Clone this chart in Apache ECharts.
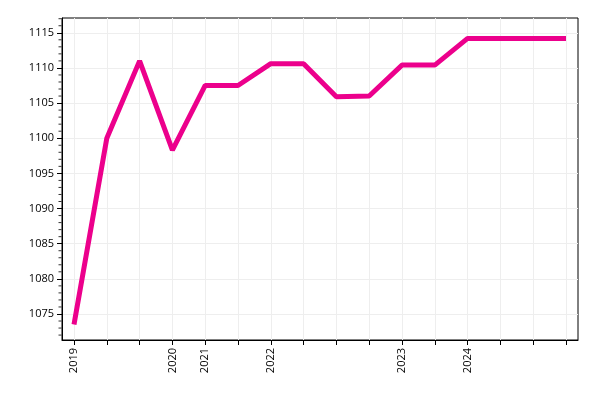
<!DOCTYPE html>
<html><head><meta charset="utf-8">
<script src="https://cdn.jsdelivr.net/npm/echarts@6/dist/echarts.min.js"></script>
<style>html,body{margin:0;padding:0;background:#fff}#c{width:600px;height:400px}</style>
</head><body><div id="c"></div>
<script>
const xLabels = ['2019','','','2020','2021','','2022','','','','2023','','2024','','',''];
const values = [1073.5,1100,1111,1098.3,1107.5,1107.5,1110.6,1110.6,1105.9,1106,1110.4,1110.4,1114.2,1114.2,1114.2,1114.2];
const yTicks = [1075,1080,1085,1090,1095,1100,1105,1110,1115];
const yMinor = [];
for (let v = 1072; v <= 1117; v++) if (v % 5) yMinor.push(v);
const xIdx = values.map((_, i) => i);
const chart = echarts.init(document.getElementById('c'));
chart.setOption({
  animation: false,
  grid: {left: 62, right: 22, top: 18, bottom: 60, show: true, borderColor: '#000', borderWidth: 1},
  xAxis: {
    type: 'value', min: -0.366, max: 15.366,
    axisLine: {show: true, onZero: false, lineStyle: {color: '#000'}},
    axisTick: {show: true, customValues: xIdx, length: 5, lineStyle: {color: '#000'}},
    axisLabel: {customValues: xIdx, rotate: 90, color: '#000', fontFamily: 'Open Sans', fontSize: 11,
      formatter: v => xLabels[Math.round(v)] || ''},
    splitLine: {show: true, lineStyle: {color: '#eee'}}
  },
  yAxis: {
    type: 'value', min: 1071.3, max: 1117.1,
    axisLine: {show: true, onZero: false, lineStyle: {color: '#000'}},
    axisTick: {show: true, customValues: yTicks, length: 5, lineStyle: {color: '#000'}},
    axisLabel: {customValues: yTicks, color: '#000', fontFamily: 'Open Sans', fontSize: 11,
      formatter: v => String(Math.round(v))},
    splitLine: {show: true, lineStyle: {color: '#eee'}}
  },
  series: [{
    type: 'line', data: values.map((v, i) => [i, v]), symbol: 'none',
    lineStyle: {color: '#ec008c', width: 5}
  },{
    type: 'scatter', data: yMinor.map(v => [-0.366, v]), symbol: 'rect', symbolSize: [3, 1],
    symbolOffset: [-2, 0], itemStyle: {color: '#000'}, silent: true
  }]
});
</script></body></html>
